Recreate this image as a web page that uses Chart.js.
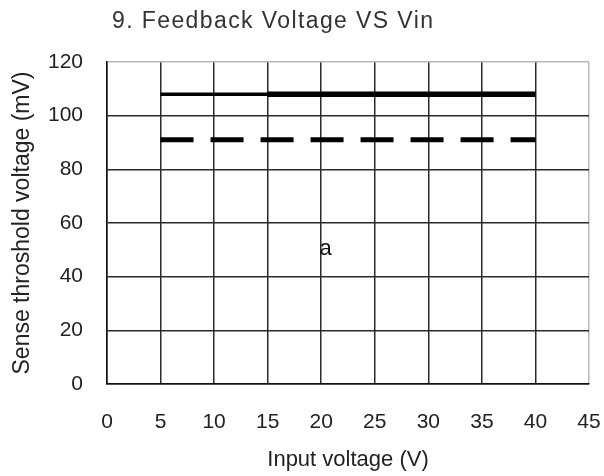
<!DOCTYPE html>
<html>
<head>
<meta charset="utf-8">
<script src="https://cdn.jsdelivr.net/npm/chart.js@4"></script>
<style>
    html, body { margin: 0; padding: 0; background: #fff; }
    #wrap { width: 604px; height: 476px; }
</style>
</head>
<body>
<div id="wrap"><canvas id="lineChart" width="604" height="476"></canvas></div>
<script>
// values
const inputVoltage = [5, 10, 15, 20, 25, 30, 35, 40];
const upperThreshold = [108, 108, 108, 108, 108, 108, 108, 108];
const lowerThreshold = [91, 91, 91, 91, 91, 91, 91, 91];
const xTickValues = [0, 5, 10, 15, 20, 25, 30, 35, 40, 45];
const yTickValues = [0, 20, 40, 60, 80, 100, 120];
const chartTitle = "9. Feedback Voltage VS Vin";
const plotNote = "a";

const FONT = '"Liberation Sans", Arial, sans-serif';

function toPoints(xs, ys) {
    return xs.map((x, i) => ({ x: x, y: ys[i] }));
}

// title + the little "a" inside the plot
const textPlugin = {
    id: "extraText",
    afterDraw(chart) {
        const ctx = chart.ctx;
        ctx.save();
        ctx.fillStyle = "#333";
        ctx.font = "23px " + FONT;
        ctx.textAlign = "left";
        ctx.textBaseline = "alphabetic";
        ctx.letterSpacing = "1.4px";
        ctx.fillText(chartTitle, 112, 28);
        ctx.letterSpacing = "0px";
        ctx.fillStyle = "#111";
        ctx.font = "22px " + FONT;
        ctx.textAlign = "center";
        const xs = chart.scales.x, ys = chart.scales.y;
        ctx.fillText(plotNote, xs.getPixelForValue(20.4), ys.getPixelForValue(48));
        ctx.restore();
    }
};

const ctx = document.getElementById("lineChart").getContext("2d");
const lineChart = new Chart(ctx, {
    type: "line",
    data: {
        datasets: [
            {
                label: "upper",
                data: toPoints(inputVoltage, upperThreshold),
                borderColor: "#000",
                borderWidth: 5,
                pointRadius: 0,
                tension: 0,
                segment: {
                    borderWidth: (c) => (c.p0.parsed.x < 14 ? 3.5 : 5.5),
                },
            },
            {
                label: "lower",
                data: toPoints(inputVoltage, lowerThreshold),
                borderColor: "#000",
                borderWidth: 5,
                borderDash: [33, 17],
                borderCapStyle: "butt",
                pointRadius: 0,
                tension: 0,
            },
        ],
    },
    options: {
        responsive: false,
        animation: false,
        layout: { padding: { top: 62, right: 15, left: 0, bottom: 0 } },
        plugins: {
            legend: { display: false },
            tooltip: { enabled: false },
            title: { display: false },
        },
        scales: {
            x: {
                type: "linear",
                min: 0,
                max: 45,
                afterBuildTicks: (s) => { s.ticks = xTickValues.map((v) => ({ value: v })); },
                afterFit: (s) => {
                    s.height = 92;
                    s.paddingLeft = 0;
                    s.paddingRight = 0;
                },
                ticks: {
                    padding: 26,
                    color: "#222",
                    font: { family: FONT, size: 21 },
                    maxRotation: 0,
                },
                grid: {
                    drawTicks: false,
                    lineWidth: 1.5,
                    color: (c) => (c.tick && c.tick.value === 45 ? "#b8b8b8" : "#2a2a2a"),
                },
                border: { display: true, color: "#111", width: 1.5 },
                title: {
                    display: true,
                    text: "Input voltage (V)",
                    color: "#222",
                    font: { family: FONT, size: 22 },
                    padding: { top: 0, bottom: 3 },
                },
            },
            y: {
                type: "linear",
                min: 0,
                max: 120,
                afterBuildTicks: (s) => { s.ticks = yTickValues.map((v) => ({ value: v })); },
                afterFit: (s) => {
                    s.width = 107;
                    s.paddingTop = 0;
                    s.paddingBottom = 0;
                },
                ticks: {
                    padding: 24,
                    color: "#222",
                    font: { family: FONT, size: 21 },
                },
                grid: {
                    drawTicks: false,
                    lineWidth: 1.5,
                    color: (c) => (c.tick && c.tick.value === 120 ? "#b8b8b8" : "#2a2a2a"),
                },
                border: { display: true, color: "#111", width: 1.5 },
                title: {
                    display: true,
                    text: "Sense throshold voltage (mV)",
                    color: "#222",
                    font: { family: FONT, size: 23 },
                    padding: { top: 9, bottom: 0 },
                },
            },
        },
    },
    plugins: [textPlugin],
});
</script>
</body>
</html>
